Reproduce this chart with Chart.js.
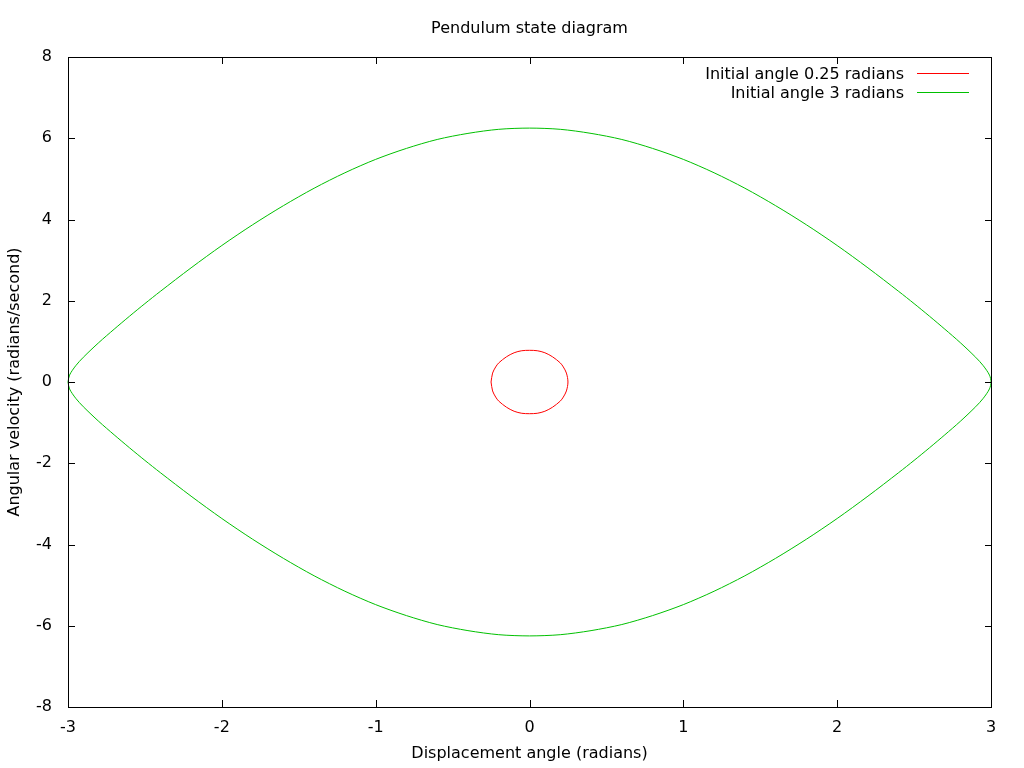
<!DOCTYPE html>
<html>
<head>
<meta charset="utf-8">
<title>Pendulum state diagram</title>
<script src="https://cdn.jsdelivr.net/npm/chart.js@4/dist/chart.umd.min.js"></script>
<style>
  html, body { margin: 0; padding: 0; background: #fff; }
  canvas { display: block; }
</style>
</head>
<body>
<canvas id="phase" width="1024" height="768"></canvas>
<script>
// values (upper half of each orbit)
const chartTitle = 'Pendulum state diagram';
const xTitle = 'Displacement angle (radians)';
const yTitle = 'Angular velocity (radians/second)';

const smallAngles = [-0.25, -0.24, -0.22, -0.2, -0.15, -0.1, -0.05, 0, 0.05, 0.1, 0.15, 0.2, 0.22, 0.24, 0.25];
const smallVelocity = [0, 0.22, 0.37, 0.47, 0.62, 0.72, 0.77, 0.78, 0.77, 0.72, 0.62, 0.47, 0.37, 0.22, 0];

const largeAngles = [-3, -2.99, -2.95, -2.9, -2.8, -2.7, -2.6, -2.5, -2.4, -2.2, -2, -1.8, -1.6, -1.4, -1.2, -1, -0.8, -0.6, -0.4, -0.2,
    0, 0.2, 0.4, 0.6, 0.8, 1, 1.2, 1.4, 1.6, 1.8, 2, 2.2, 2.4, 2.5, 2.6, 2.7, 2.8, 2.9, 2.95, 2.99, 3];
const largeVelocity = [0, 0.17, 0.4, 0.61, 0.97, 1.3, 1.62, 1.93, 2.23, 2.81, 3.36, 3.87, 4.34, 4.77, 5.15, 5.48, 5.75, 5.97, 6.12, 6.22,
    6.25, 6.22, 6.12, 5.97, 5.75, 5.48, 5.15, 4.77, 4.34, 3.87, 3.36, 2.81, 2.23, 1.93, 1.62, 1.3, 0.97, 0.61, 0.4, 0.17, 0];

const seriesLabels = ['Initial angle 0.25 radians', 'Initial angle 3 radians'];
const seriesColors = ['#ff0000', '#00c000'];
const xTicks = [-3, -2, -1, 0, 1, 2, 3];
const yTicks = [-8, -6, -4, -2, 0, 2, 4, 6, 8];

// closed orbit: top half left to right, then bottom half back
function orbit(angles, vel) {
    const pts = angles.map((a, i) => ({ x: a, y: vel[i] }));
    for (let i = angles.length - 2; i >= 0; i--) {
        pts.push({ x: angles[i], y: -vel[i] });
    }
    return pts;
}

Chart.defaults.font.family = '"DejaVu Sans", sans-serif';
Chart.defaults.font.size = 16;
Chart.defaults.color = '#000';

// gnuplot look: frame, inward ticks on all sides, title and key
const gnuplotFrame = {
    id: 'gnuplotFrame',
    afterDraw(chart) {
        const { ctx, chartArea: a, scales } = chart;
        const len = 7;
        ctx.save();
        ctx.strokeStyle = '#000';
        ctx.lineWidth = 1;
        ctx.beginPath();
        ctx.rect(a.left + 0.5, a.top + 0.5, a.right - a.left, a.bottom - a.top);
        xTicks.forEach(v => {
            const px = Math.round(scales.x.getPixelForValue(v)) + 0.5;
            ctx.moveTo(px, a.bottom); ctx.lineTo(px, a.bottom - len);
            ctx.moveTo(px, a.top); ctx.lineTo(px, a.top + len);
        });
        yTicks.forEach(v => {
            const py = Math.round(scales.y.getPixelForValue(v)) + 0.5;
            ctx.moveTo(a.left, py); ctx.lineTo(a.left + len, py);
            ctx.moveTo(a.right + 1, py); ctx.lineTo(a.right + 1 - len, py);
        });
        ctx.stroke();

        ctx.fillStyle = '#000';
        ctx.font = '16px "DejaVu Sans", sans-serif';
        ctx.textAlign = 'center';
        ctx.textBaseline = 'middle';
        ctx.fillText(chartTitle, (a.left + a.right) / 2, 29);

        // key, top right
        ctx.textAlign = 'right';
        chart.data.datasets.forEach((ds, i) => {
            const y = 73 + i * 18.5;
            ctx.fillStyle = '#000';
            ctx.fillText(ds.label, 904, y + 2);
            ctx.strokeStyle = ds.borderColor;
            ctx.beginPath();
            ctx.moveTo(917, Math.round(y) + 0.5);
            ctx.lineTo(969, Math.round(y) + 0.5);
            ctx.stroke();
        });
        ctx.restore();
    }
};

new Chart(document.getElementById('phase'), {
    type: 'scatter',
    data: {
        datasets: [{
            label: seriesLabels[0],
            data: orbit(smallAngles, smallVelocity),
            borderColor: seriesColors[0],
            backgroundColor: seriesColors[0],
        }, {
            label: seriesLabels[1],
            data: orbit(largeAngles, largeVelocity),
            borderColor: seriesColors[1],
            backgroundColor: seriesColors[1],
        }]
    },
    options: {
        responsive: false,
        animation: false,
        showLine: true,
        clip: false,
        elements: {
            point: { radius: 0, hoverRadius: 0 },
            line: { borderWidth: 1, tension: 0.3, fill: false }
        },
        layout: { padding: { top: 57, right: 33, left: 0, bottom: 0 } },
        scales: {
            x: {
                type: 'linear',
                min: -3,
                max: 3,
                afterBuildTicks: s => { s.ticks = xTicks.map(v => ({ value: v })); },
                afterFit: s => { s.height = 61; },
                grid: { display: false, drawTicks: false },
                border: { display: false },
                ticks: { padding: 11, maxRotation: 0 },
                title: { display: true, text: xTitle, padding: { top: 2, bottom: 5 } }
            },
            y: {
                type: 'linear',
                min: -8,
                max: 8,
                afterBuildTicks: s => { s.ticks = yTicks.map(v => ({ value: v })); },
                afterFit: s => { s.width = 68; },
                grid: { display: false, drawTicks: false },
                border: { display: false },
                ticks: { padding: 16 },
                title: { display: true, text: yTitle, padding: { top: 5, bottom: 0 } }
            }
        },
        plugins: {
            legend: { display: false },
            title: { display: false },
            tooltip: { enabled: false }
        }
    },
    plugins: [gnuplotFrame]
});
</script>
</body>
</html>
